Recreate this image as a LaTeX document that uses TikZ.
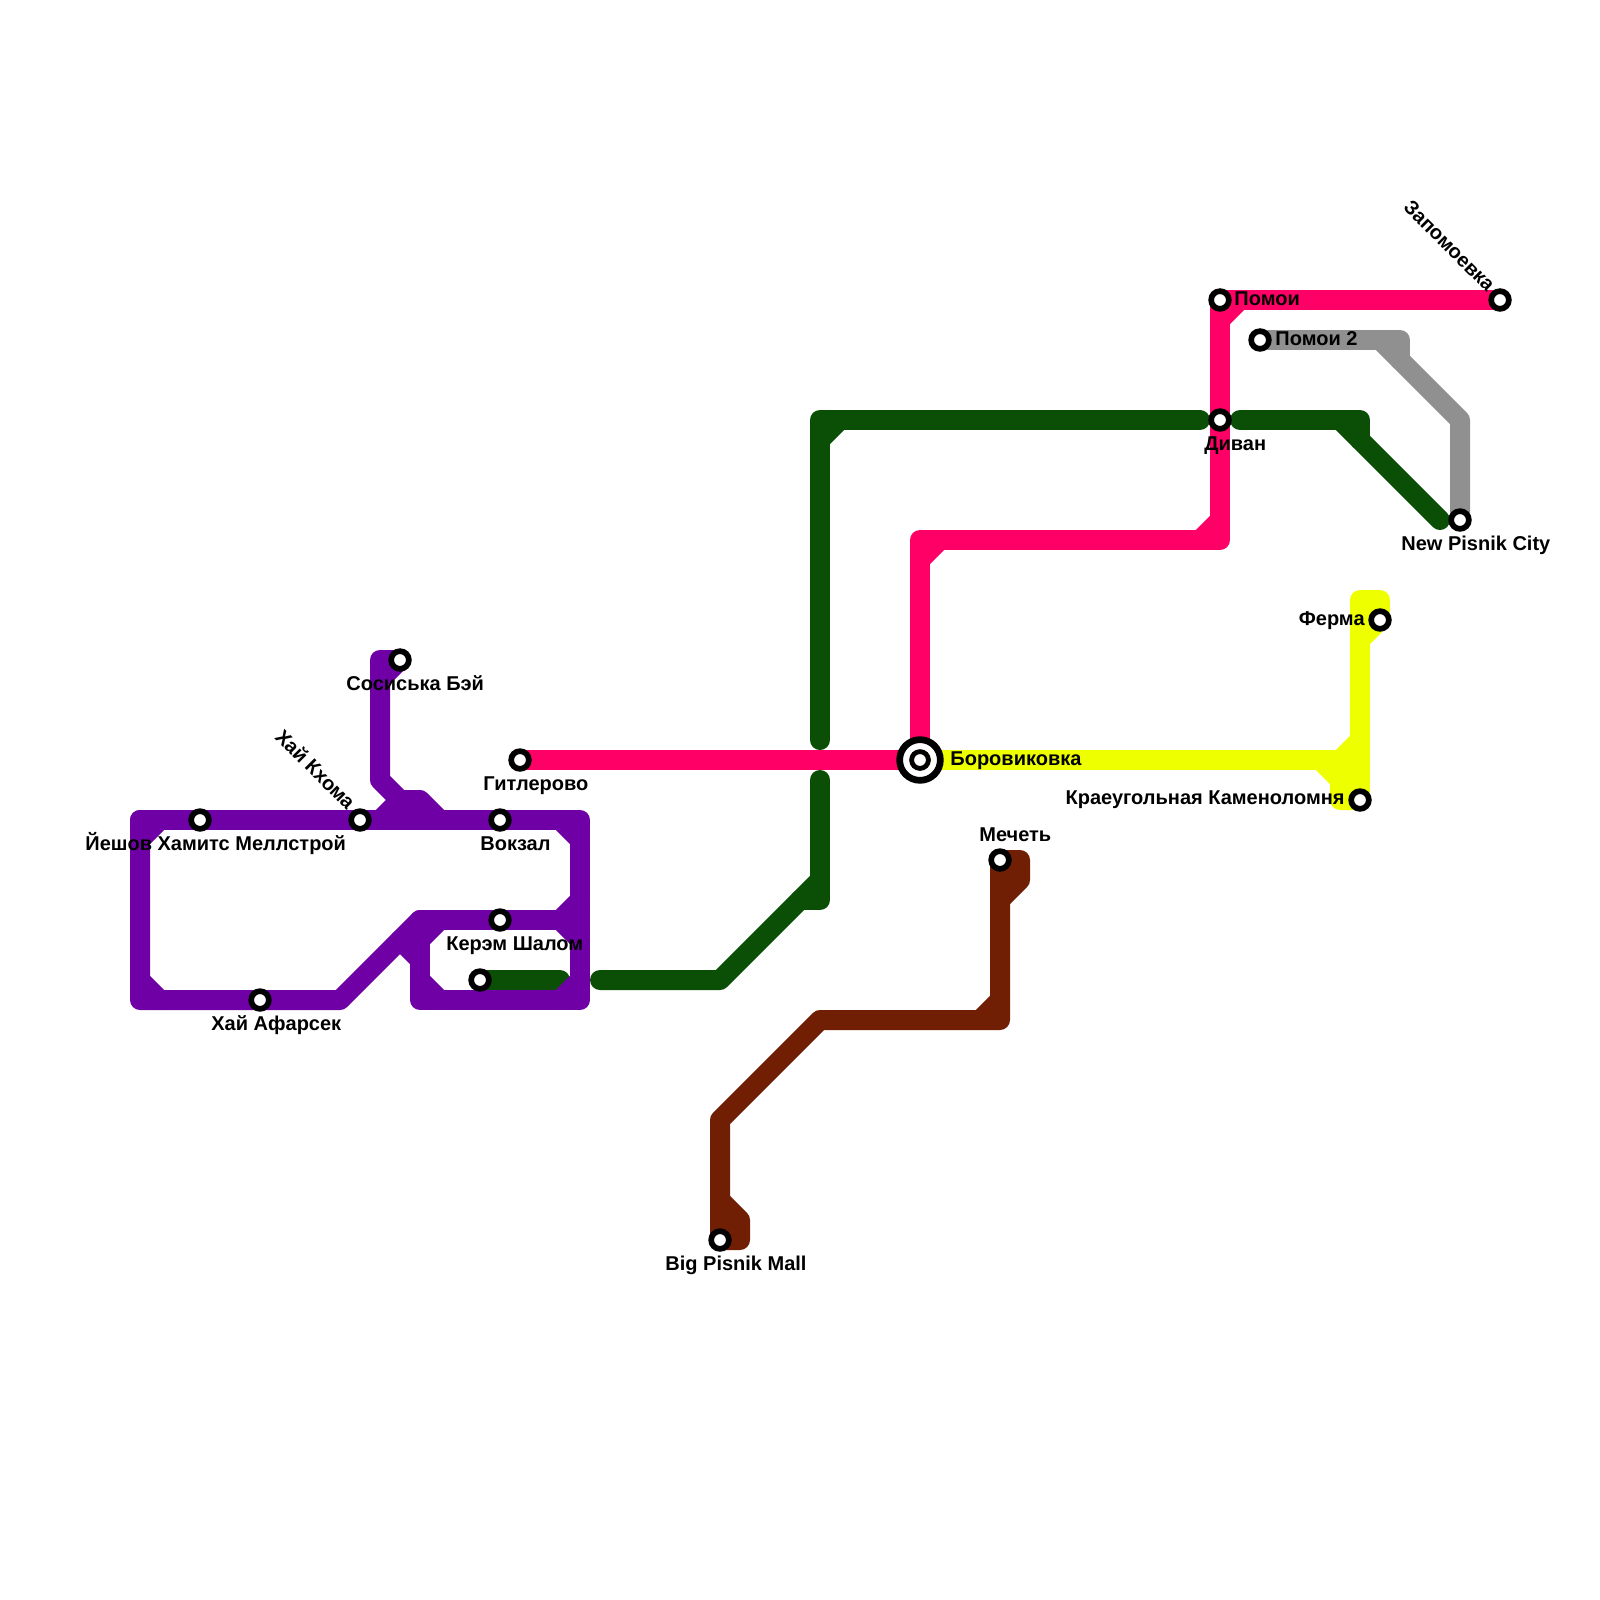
\documentclass[tikz,border=0pt]{standalone}
\usepackage{fontspec}
\setmainfont{Liberation Sans}
\definecolor{cPurple}{HTML}{6E00A6}
\definecolor{cPink}{HTML}{FF0066}
\definecolor{cGreen}{HTML}{0A4F05}
\definecolor{cGrey}{HTML}{909090}
\definecolor{cYellow}{HTML}{EEFF00}
\definecolor{cBrown}{HTML}{701F05}
\tikzset{
  x=0.5pt,y=-0.5pt,
  metro/.style={line width=10pt,line cap=round,line join=round},
  stn/.style={circle,draw=black,fill=white,line width=2.85pt,minimum size=8.85pt,inner sep=0pt,outer sep=0pt},
  hubout/.style={circle,draw=black,fill=white,line width=3.35pt,minimum size=20.35pt,inner sep=0pt,outer sep=0pt},
  hubin/.style={circle,draw=black,fill=white,line width=2.4pt,minimum size=8.4pt,inner sep=0pt,outer sep=0pt},
  lbl/.style={font=\fontsize{10pt}{11pt}\bfseries\selectfont,inner sep=0pt,text=black},
}
\begin{document}
\begin{tikzpicture}
\useasboundingbox (0,0) rectangle (1600,1600);
% station positions
\foreach \n/\x/\y in {sosis/400/660,hitler/520/760,khoma/360/820,yesh/200/820,vokz/500/820,kerem/500/920,afar/260/1000,gterm/480/980,
  pomoi/1220/300,zapom/1500/300,pomoi2/1260/340,divan/1220/420,newp/1460/520,ferma/1380/620,krai/1360/800,
  mech/1000/860,bigp/720/1240,hub/920/760}
  {\coordinate (\n) at (\x,\y);}
% green
\draw[metro,cGreen] (gterm) -- (560,980);
\draw[metro,cGreen] (600,980) -- (720,980) -- (820,880);
\draw[metro,cGreen] (800,900) -- (820,900) -- (820,780);
\draw[metro,cGreen] (820,740) -- (820,420) -- (1200,420);
\draw[metro,cGreen] (820,440) -- (840,420);
\draw[metro,cGreen] (1240,420) -- (1360,420) -- (1360,440);
\draw[metro,cGreen] (1340,420) -- (1440,520);
% grey
\draw[metro,cGrey] (pomoi2) -- (1400,340) -- (1400,360);
\draw[metro,cGrey] (1380,340) -- (1460,420) -- (newp);
% pink
\draw[metro,cPink] (zapom) -- (pomoi) -- (1220,540) -- (920,540) -- (hub);
\draw[metro,cPink] (1220,320) -- (1240,300);
\draw[metro,cPink] (1220,520) -- (1200,540);
\draw[metro,cPink] (920,560) -- (940,540);
\draw[metro,cPink] (hitler) -- (hub);
% yellow
\draw[metro,cYellow] (hub) -- (1360,760);
\draw[metro,cYellow] (ferma) -- (1380,600) -- (1360,600) -- (1360,800) -- (krai);
\draw[metro,cYellow] (1360,640) -- (ferma);
\draw[metro,cYellow] (1340,760) -- (1360,740);
\draw[metro,cYellow] (1320,760) -- (1340,780) -- (1340,800) -- (krai);
\draw[metro,cYellow] (1370,605) -- (1370,625);
\draw[metro,cYellow] (1350,770) -- (1350,800);
% brown
\draw[metro,cBrown] (bigp) -- (720,1120) -- (820,1020) -- (1000,1020) -- (mech);
\draw[metro,cBrown] (980,1020) -- (1000,1000);
\draw[metro,cBrown] (mech) -- (1020,860) -- (1020,880) -- (1000,900);
\draw[metro,cBrown] (720,1200) -- (740,1220) -- (740,1240) -- (bigp);
\draw[metro,cBrown] (1010,865) -- (1010,885);
\draw[metro,cBrown] (730,1215) -- (730,1240);
% purple
\draw[metro,cPurple] (140,820) -- (580,820) -- (580,1000) -- (420,1000) -- (420,920) -- (580,920);
\draw[metro,cPurple] (140,820) -- (140,1000) -- (340,1000) -- (420,920);
\draw[metro,cPurple] (sosis) -- (380,660) -- (380,780) -- (400,800) -- (420,800) -- (440,820);
\draw[metro,cPurple] (380,680) -- (sosis);
\draw[metro,cPurple] (380,820) -- (400,800);
\draw[metro,cPurple] (400,810) -- (420,810);
\draw[metro,cPurple] (400,940) -- (420,960);
\draw[metro,cPurple] (140,840) -- (160,820);
\draw[metro,cPurple] (140,980) -- (160,1000);
\draw[metro,cPurple] (560,820) -- (580,840);
\draw[metro,cPurple] (560,920) -- (580,900);
\draw[metro,cPurple] (560,920) -- (580,940);
\draw[metro,cPurple] (440,920) -- (420,940);
\draw[metro,cPurple] (420,980) -- (440,1000);
\draw[metro,cPurple] (560,1000) -- (580,980);
% stations
\foreach \n in {sosis,hitler,khoma,yesh,vokz,kerem,afar,gterm,pomoi,zapom,pomoi2,divan,newp,ferma,krai,mech,bigp}
  {\node[stn] (s\n) at (\n) {};}
\node[hubout] (hubo) at (hub) {};
\node[hubin] (hubi) at (hub) {};
% labels
\node[lbl,anchor=base west] (l1) at (346,690) {Сосиська Бэй};
\node[lbl,anchor=base east,rotate=-45] (l2) at (347,811) {Хай Кхома};
\node[lbl,anchor=base west] (l3) at (85,850) {Йешов Хамитс Меллстрой};
\node[lbl,anchor=base west] (l4) at (480,850) {Вокзал};
\node[lbl,anchor=base west] (l5) at (483,790) {Гитлерово};
\node[lbl,anchor=base west] (l6) at (446,950) {Керэм Шалом};
\node[lbl,anchor=base west] (l7) at (211,1030) {Хай Афарсек};
\node[lbl,anchor=base west] (l8) at (1234,305) {Помои};
\node[lbl,anchor=base west] (l9) at (1275,345) {Помои 2};
\node[lbl,anchor=base west] (l10) at (1204,450) {Диван};
\node[lbl,anchor=base west] (l11) at (1401,550) {New Pisnik City};
\node[lbl,anchor=base east,rotate=-45] (l12) at (1487,293) {Запомоевка};
\node[lbl,anchor=base east] (l13) at (1365,625) {Ферма};
\node[lbl,anchor=base east] (l14) at (1345,804) {Краеугольная Каменоломня};
\node[lbl,anchor=base west] (l15) at (950,765) {Боровиковка};
\node[lbl,anchor=base west] (l16) at (979,841) {Мечеть};
\node[lbl,anchor=base west] (l17) at (665,1270) {Big Pisnik Mall};
\end{tikzpicture}
\end{document}
